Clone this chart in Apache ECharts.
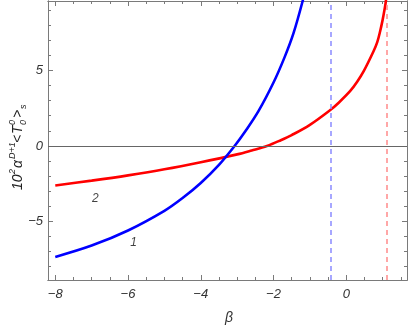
<!DOCTYPE html>
<html>
<head>
<meta charset="utf-8">
<script src="https://cdn.jsdelivr.net/npm/echarts@6/dist/echarts.min.js"></script>
<style>html,body{margin:0;padding:0;background:#fff}#c{width:409px;height:327px}</style>
</head>
<body>
<div id="c"></div>
<script>
// Curve 1 (blue)
var blueX = [-8, -7, -6, -5, -4.5, -4, -3.5, -3.07, -2.77, -2.41, -2, -1.7, -1.45, -1.19, -1.05];
var blueY = [-7.35, -6.6, -5.6, -4.3, -3.45, -2.45, -1.25, 0, 0.99, 2.32, 4.2, 5.85, 7.47, 9.68, 11.1];
// Curve 2 (red)
var redX = [-8, -7, -6, -5, -4, -3, -2.6, -2.18, -1.8, -1.5, -1, -0.44, -0.2, 0.11, 0.3, 0.48, 0.75, 0.85, 0.93, 1.0, 1.05, 1.09, 1.13];
var redY = [-2.62, -2.3, -1.95, -1.55, -1.08, -0.56, -0.3, 0, 0.38, 0.72, 1.4, 2.38, 2.88, 3.64, 4.25, 4.95, 6.27, 6.86, 7.58, 8.35, 9.0, 9.6, 10.5];
// asymptotes
var blueAsym = -0.44;
var redAsym = 1.1;
// curve labels
var curveLabels = [{x: -5.85, y: -6.42, text: '1'}, {x: -6.9, y: -3.51, text: '2'}];
// ticks
var xMajor = [-8, -6, -4, -2, 0];
var xMinor = [-7.5, -7, -6.5, -5.5, -5, -4.5, -3.5, -3, -2.5, -1.5, -1, -0.5, 0.5, 1, 1.5];
var yMajor = [-5, 0, 5];
var yMinor = [-8, -7, -6, -4, -3, -2, -1, 1, 2, 3, 4, 6, 7, 8, 9];
var xRange = [-8.2, 1.67];
var yRange = [-8.88, 9.6];

function zip(a, b) { return a.map(function (v, i) { return [v, b[i]]; }); }
function fmt(v) { return v < 0 ? '\u2212' + Math.abs(v) : String(v); }

var frameColor = '#7a7a7a';
var labelStyle = {color: '#333', fontSize: 13, fontStyle: 'italic', fontFamily: 'Liberation Sans'};

function xAx(pos, vals, len, labels) {
  return {
    type: 'value', position: pos, min: xRange[0], max: xRange[1],
    axisLine: {show: true, onZero: false, lineStyle: {color: frameColor, width: 1}},
    axisTick: {show: true, inside: true, length: len, customValues: vals, lineStyle: {color: frameColor}},
    axisLabel: labels ? Object.assign({show: true, customValues: vals, margin: 8, formatter: fmt}, labelStyle) : {show: false},
    splitLine: {show: false}
  };
}
function yAx(pos, vals, len, labels) {
  return {
    type: 'value', position: pos, min: yRange[0], max: yRange[1],
    axisLine: {show: true, onZero: false, lineStyle: {color: frameColor, width: 1}},
    axisTick: {show: true, inside: true, length: len, customValues: vals, lineStyle: {color: frameColor}},
    axisLabel: labels ? Object.assign({show: true, customValues: vals, margin: 5, formatter: fmt}, labelStyle) : {show: false},
    splitLine: {show: false}
  };
}

var f = 'italic 14px Liberation Sans';
var fs = 'italic 9px Liberation Sans';
var chart = echarts.init(document.getElementById('c'));
chart.setOption({
  animation: false,
  grid: {left: 48, right: 2, top: 1, bottom: 47},
  xAxis: [xAx('bottom', xMajor, 5, true), xAx('bottom', xMinor, 3, false), xAx('top', xMajor, 5, false), xAx('top', xMinor, 3, false)],
  yAxis: [yAx('left', yMajor, 5, true), yAx('left', yMinor, 3, false), yAx('right', yMajor, 5, false), yAx('right', yMinor, 3, false)],
  series: [
    {
      type: 'line', data: zip(blueX, blueY), showSymbol: false, smooth: 0.35,
      lineStyle: {color: '#0000ff', width: 2.6}, clip: true, z: 3,
      markLine: {
        silent: true, symbol: 'none', label: {show: false},
        data: [
          {yAxis: 0, lineStyle: {color: '#666', type: 'solid', width: 1}},
          {xAxis: blueAsym, lineStyle: {color: '#8a8aff', type: [5, 4], width: 1.5}},
          {xAxis: redAsym, lineStyle: {color: '#ff8a8a', type: [5, 4], width: 1.5}}
        ]
      }
    },
    {
      type: 'line', data: zip(redX, redY), showSymbol: false, smooth: 0.35,
      lineStyle: {color: '#ff0000', width: 2.6}, clip: true, z: 2
    },
    {
      type: 'scatter', symbolSize: 0,
      data: curveLabels.map(function (d) { return {value: [d.x, d.y], name: d.text}; }),
      label: {show: true, position: 'inside', formatter: '{b}', color: '#111', fontSize: 12, fontStyle: 'italic', fontFamily: 'Liberation Sans'}
    }
  ],
  graphic: [
    {type: 'text', x: 229, y: 318, style: {text: '\u03b2', font: 'italic 14px Liberation Sans', fill: '#333', align: 'center', verticalAlign: 'middle'}},
    {
      type: 'group', x: 18, y: 190, rotation: Math.PI / 2,
      children: [
        {type: 'text', x: 0, y: 0, style: {text: '10', font: f, fill: '#222', verticalAlign: 'middle'}},
        {type: 'text', x: 16, y: -6, style: {text: '2', font: fs, fill: '#222', verticalAlign: 'middle'}},
        {type: 'text', x: 22, y: 0, style: {text: '\u03b1', font: f, fill: '#222', verticalAlign: 'middle'}},
        {type: 'text', x: 31, y: -6, style: {text: 'D+1', font: fs, fill: '#222', verticalAlign: 'middle'}},
        {type: 'text', x: 47, y: 0, style: {text: '<', font: f, fill: '#222', verticalAlign: 'middle'}},
        {type: 'text', x: 56, y: 0, style: {text: 'T', font: f, fill: '#222', verticalAlign: 'middle'}},
        {type: 'text', x: 65, y: -6, style: {text: '0', font: fs, fill: '#222', verticalAlign: 'middle'}},
        {type: 'text', x: 65, y: 5, style: {text: '0', font: fs, fill: '#222', verticalAlign: 'middle'}},
        {type: 'text', x: 72, y: 0, style: {text: '>', font: f, fill: '#222', verticalAlign: 'middle'}},
        {type: 'text', x: 81, y: 5, style: {text: 's', font: fs, fill: '#222', verticalAlign: 'middle'}}
      ]
    }
  ]
});
</script>
</body>
</html>
